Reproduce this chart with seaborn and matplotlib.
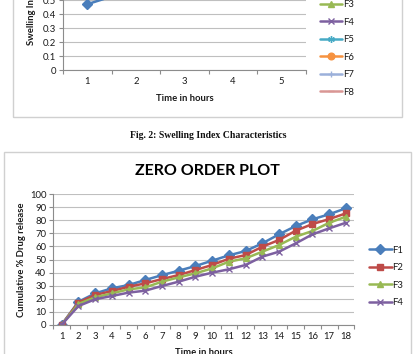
import matplotlib
matplotlib.use("Agg")
import matplotlib.pyplot as plt
import seaborn as sns
import pandas as pd
from matplotlib.patches import Rectangle
from matplotlib.ticker import FixedLocator, MultipleLocator

# ---------------- data ----------------
# Upper chart (Swelling index) - only the start of F1 is visible in the crop
swell_hours = [1, 2, 3, 4, 5]
swell_F1 = [0.47, 0.58, 0.66, 0.72, 0.76]
swell_F2 = [0.58, 0.64, 0.70, 0.74, 0.78]
swell_F3 = [0.60, 0.66, 0.71, 0.75, 0.79]
swell_F4 = [0.62, 0.67, 0.72, 0.76, 0.79]
swell_F5 = [0.61, 0.66, 0.70, 0.74, 0.77]
swell_F6 = [0.63, 0.68, 0.72, 0.75, 0.78]
swell_F7 = [0.64, 0.69, 0.73, 0.76, 0.79]
swell_F8 = [0.65, 0.70, 0.74, 0.77, 0.80]

# Lower chart (Zero order plot)
hours = list(range(1, 19))
F1 = [0, 17.6, 24.0, 27.9, 30.4, 34.3, 38.0, 41.4, 45.0, 49.1, 53.2, 56.5, 62.4, 69.3, 75.7, 80.8, 84.7, 89.3]
F2 = [0, 17.0, 22.8, 25.8, 29.1, 31.7, 35.0, 38.1, 41.9, 45.8, 50.6, 53.4, 59.8, 65.0, 72.1, 77.2, 81.0, 85.4]
F3 = [0, 15.9, 21.0, 24.0, 27.1, 28.6, 33.0, 36.3, 39.4, 43.2, 48.3, 50.9, 56.0, 61.1, 67.5, 71.9, 78.2, 82.8]
F4 = [0, 14.3, 19.5, 22.0, 24.6, 26.1, 29.7, 33.0, 36.8, 39.9, 42.5, 45.8, 52.2, 56.0, 62.4, 69.3, 73.9, 78.2]

names = ["F1", "F2", "F3", "F4", "F5", "F6", "F7", "F8"]
swell_series = [swell_F1, swell_F2, swell_F3, swell_F4, swell_F5, swell_F6, swell_F7, swell_F8]
zero_series = [F1, F2, F3, F4]

colors = ["#4A7EBB", "#BE4B48", "#98B954", "#7D60A0", "#46AAC5", "#F69240", "#9BB0DA", "#D99694"]
markers = ["D", "s", "^", "x", (6, 2, 0), "o", "+", "_"]

# ---------------- style ----------------
sns.set_theme(style="white")
plt.rcParams["font.family"] = ["Lato", "DejaVu Sans"]

W, H = 416, 354
fig = plt.figure(figsize=(W / 100, H / 100), dpi=100)
fig.patch.set_facecolor("white")

def fx(px):
    return px / W

def fy(py):
    return 1 - py / H

grid_c = "#bfbfbf"
axis_c = "#8c8c8c"
txt_c = "#1a1a1a"
tick_fs = 6.8

# chart frames
fig.patches.append(Rectangle((fx(13), fy(117)), fx(402) - fx(13), fy(-20) - fy(117),
                             transform=fig.transFigure, fill=False, edgecolor="#d0d0d0", lw=1.0))
fig.patches.append(Rectangle((fx(3.5), fy(380)), fx(411) - fx(3.5), fy(152) - fy(380),
                             transform=fig.transFigure, fill=False, edgecolor="#d0d0d0", lw=1.0))

def style_axes(ax, ymax, ystep, ncat):
    ax.set_xlim(0.5, ncat + 0.5)
    ax.set_ylim(0, ymax)
    ax.yaxis.set_major_locator(MultipleLocator(ystep))
    ax.xaxis.set_major_locator(FixedLocator(list(range(1, ncat + 1))))
    ax.xaxis.set_minor_locator(FixedLocator([k + 0.5 for k in range(0, ncat + 1)]))
    ax.grid(axis="y", color=grid_c, lw=0.8)
    ax.grid(axis="x", visible=False)
    ax.set_axisbelow(True)
    for s in ["top", "right"]:
        ax.spines[s].set_visible(False)
    for s in ["left", "bottom"]:
        ax.spines[s].set_color(axis_c)
        ax.spines[s].set_linewidth(0.8)
    ax.tick_params(axis="y", which="major", length=3, width=0.8, color=axis_c,
                   labelsize=tick_fs, labelcolor=txt_c, pad=2, direction="out", left=True)
    ax.tick_params(axis="x", which="major", length=0, labelsize=tick_fs, labelcolor=txt_c, pad=5, bottom=True)
    ax.tick_params(axis="x", which="minor", length=3, width=0.8, color=axis_c, direction="out", bottom=True)
    ax.set_facecolor("white")

# ---------------- upper chart: swelling index ----------------
ax1 = fig.add_axes([fx(63), fy(70), fx(306) - fx(63), fy(-42) - fy(70)])
for name, vals, c, m in zip(names, swell_series, colors, markers):
    d = pd.DataFrame({"hour": swell_hours, "val": vals})
    sns.lineplot(data=d, x="hour", y="val", ax=ax1, color=c, marker=m, markersize=4.8,
                 markeredgecolor=c, markeredgewidth=1.0, lw=1.8, label=name)
style_axes(ax1, 0.8, 0.1, 5)
ax1.set_yticklabels(["0" if v == 0 else f"{v:.1f}" for v in ax1.get_yticks()])
ax1.set_xlabel("Time in hours", fontsize=6.8, fontweight="bold", color=txt_c)
ax1.xaxis.set_label_coords(0.5, (70 - 98.3) / 112)
ax1.xaxis.label.set_va("center")
ax1.set_ylabel("Swelling Index", fontsize=6.8, fontweight="bold", color=txt_c)
ax1.yaxis.set_label_coords((32 - 63) / 243, 0.5)
ax1.yaxis.label.set_va("center")
h1, l1 = ax1.get_legend_handles_labels()
ax1.legend(h1, l1, loc="center left", bbox_to_anchor=(fx(320), fy(30.8)), bbox_transform=fig.transFigure,
           frameon=False, fontsize=6.8, handlelength=2.3, handletextpad=0.1, labelspacing=0.9,
           borderaxespad=0, borderpad=0, labelcolor=txt_c)

# caption
fig.text(fx(208), fy(135), "Fig. 2: Swelling Index Characteristics", ha="center", va="center",
         fontsize=7.0, fontweight="bold", family=["Liberation Serif", "DejaVu Serif"], color="#111111")

# ---------------- lower chart: zero order plot ----------------
ax2 = fig.add_axes([fx(53.3), fy(324.7), fx(354.3) - fx(53.3), fy(194.3) - fy(324.7)])
for name, vals, c, m in zip(names[:4], zero_series, colors[:4], markers[:4]):
    d = pd.DataFrame({"hour": hours, "val": vals})
    sns.lineplot(data=d, x="hour", y="val", ax=ax2, color=c, marker=m, markersize=4.8,
                 markeredgecolor=c, markeredgewidth=1.0, lw=1.8, label=name)
style_axes(ax2, 100, 10, 18)
ax2.set_xlabel("Time in hours", fontsize=6.8, fontweight="bold", color=txt_c)
ax2.xaxis.set_label_coords(0.5, (324.7 - 352.5) / 130.4)
ax2.xaxis.label.set_va("center")
ax2.set_ylabel("Cumulative % Drug release", fontsize=6.8, fontweight="bold", color=txt_c)
ax2.yaxis.set_label_coords((21.7 - 53.3) / 301, 0.5)
ax2.yaxis.label.set_va("center")
h2, l2 = ax2.get_legend_handles_labels()
ax2.legend(h2, l2, loc="center left", bbox_to_anchor=(fx(369), fy(276.5)), bbox_transform=fig.transFigure,
           frameon=False, fontsize=6.8, handlelength=2.4, handletextpad=0.1, labelspacing=0.9,
           borderaxespad=0, borderpad=0, labelcolor=txt_c)

fig.text(fx(207), fy(171), "ZERO ORDER PLOT", ha="center", va="center",
         fontsize=11.5, fontweight="bold", color="#000000")

fig.savefig("out.png", dpi=100, facecolor="white")
